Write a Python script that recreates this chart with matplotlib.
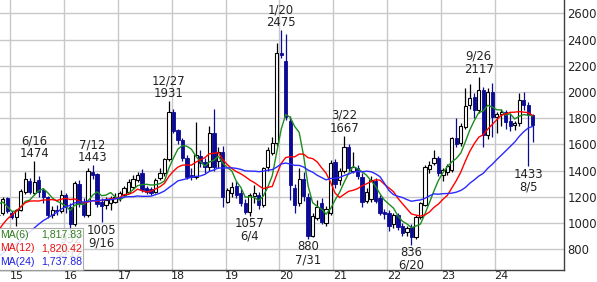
import numpy as np
import pandas as pd
import matplotlib
matplotlib.use("Agg")
import matplotlib.pyplot as plt
from matplotlib import font_manager
from matplotlib.patches import Rectangle

plt.rcParams['font.family'] = ['DejaVu Sans']
plt.rcParams['font.size'] = 8.4

# monthly candles, Oct 2014 .. Sep 2024
months = pd.period_range("2014-10", "2024-09", freq="M")

opens = [1060, 1075, 1190,
         1075, 1045, 1100, 1240, 1323, 1227, 1330, 1250, 1200, 1062, 1100, 1090,
         1213, 1120, 990, 1296, 1150, 1062, 1392, 1375, 1160, 1138, 1150, 1164,
         1189, 1214, 1240, 1278, 1330, 1380, 1265, 1258, 1240, 1342, 1380, 1486,
         1845, 1710, 1634, 1494, 1370, 1350, 1510, 1465, 1430, 1685, 1470, 1540,
         1164, 1227, 1286, 1227, 1151, 1087, 1207, 1215, 1138, 1431, 1532, 1608,
         2300, 2238, 1780, 1265, 1150, 1340, 1200, 901, 1036, 1150, 1000, 1080,
         1465, 1330, 1400, 1580, 1400, 1420, 1354, 1170, 1180, 1320, 1190, 1085,
         1080, 990, 1061, 975, 935, 973, 897, 1049, 1138, 1410, 1456, 1494,
         1367, 1392, 1405, 1650, 1610, 1730, 1901, 1964, 1862, 2015, 1672, 2000,
         1810, 1830, 1850, 1775, 1745, 1761, 1939, 1901, 1824]
highs = [1120, 1200, 1200,
         1090, 1110, 1260, 1392, 1345, 1474, 1360, 1265, 1210, 1130, 1140, 1252,
         1230, 1150, 1320, 1330, 1190, 1418, 1443, 1380, 1190, 1200, 1210, 1230,
         1245, 1280, 1340, 1370, 1392, 1410, 1280, 1275, 1345, 1418, 1500, 1931,
         1870, 1720, 1650, 1520, 1420, 1775, 1560, 1500, 1740, 1868, 1580, 1590,
         1270, 1310, 1320, 1260, 1180, 1230, 1290, 1240, 1430, 1580, 1660, 2371,
         2475, 2442, 1820, 1300, 1420, 1390, 1230, 1080, 1176, 1190, 1130, 1480,
         1490, 1420, 1667, 1600, 1540, 1440, 1380, 1270, 1360, 1345, 1215, 1110,
         1100, 1080, 1080, 1000, 980, 990, 1060, 1160, 1440, 1470, 1557, 1510,
         1420, 1450, 1660, 1800, 1760, 2030, 2060, 1990, 2117, 2040, 2030, 2070,
         1850, 1870, 1860, 1830, 1780, 1995, 2000, 1920, 1830]
lows = [1000, 1060, 1075,
        1030, 975, 1090, 1225, 1220, 1215, 1200, 1150, 1040, 1040, 1060, 1080,
        1080, 932, 975, 1120, 1050, 1050, 1340, 1120, 1005, 1110, 1100, 1150,
        1170, 1200, 1230, 1260, 1310, 1240, 1220, 1215, 1230, 1330, 1360, 1470,
        1690, 1600, 1470, 1340, 1330, 1340, 1430, 1380, 1400, 1400, 1420, 1125,
        1150, 1200, 1190, 1130, 1070, 1057, 1150, 1110, 1120, 1400, 1520, 1590,
        2260, 1790, 1176, 1075, 1130, 1170, 880, 890, 1020, 990, 975, 1060,
        1270, 1290, 1380, 1400, 1380, 1340, 1120, 1150, 1160, 1150, 1060, 1030,
        940, 960, 950, 905, 900, 836, 880, 1030, 1130, 1380, 1440, 1360,
        1320, 1370, 1390, 1580, 1590, 1720, 1870, 1800, 1840, 1580, 1640, 1660,
        1690, 1740, 1720, 1700, 1710, 1740, 1860, 1433, 1621]
closes = [1065, 1180, 1090,
          1045, 1100, 1245, 1334, 1240, 1316, 1240, 1201, 1062, 1100, 1090, 1215,
          1120, 990, 1305, 1150, 1065, 1398, 1367, 1146, 1130, 1176, 1181, 1202,
          1227, 1265, 1316, 1334, 1367, 1253, 1240, 1232, 1330, 1385, 1486, 1845,
          1705, 1634, 1494, 1354, 1350, 1520, 1460, 1430, 1685, 1430, 1540, 1200,
          1253, 1278, 1215, 1151, 1087, 1215, 1227, 1138, 1418, 1557, 1608, 2295,
          2280, 1811, 1290, 1138, 1340, 1210, 900, 1054, 1125, 1010, 1110, 1460,
          1300, 1400, 1580, 1420, 1430, 1360, 1160, 1240, 1330, 1170, 1080, 1070,
          975, 1060, 973, 925, 960, 897, 1049, 1151, 1430, 1443, 1494, 1380,
          1405, 1435, 1646, 1600, 1741, 1890, 1952, 1862, 2015, 1672, 2000, 1810,
          1830, 1850, 1775, 1740, 1760, 1939, 1901, 1824, 1745]

# closes Nov 2012 .. Sep 2014 (off the left edge), guessed so the averages start where they do
closes_before = [470, 480, 500, 520, 540, 560, 580, 560, 550, 560, 570, 580, 600,
                 600, 680, 750, 850, 950, 1090, 1300, 1255, 1100, 1060]

ma_periods = [6, 12, 24]
ma_colors = ["#1e8c1e", "#ff0000", "#2a2aff"]
ma_text_colors = ["#2e7d1e", "#e81010", "#2020e0"]
ma_last = [1817.83, 1820.42, 1737.88]

ann_month = ["2015-06", "2016-07", "2016-09", "2017-12", "2016-02", "2020-01",
             "2019-06", "2020-07", "2021-03", "2022-06", "2023-09", "2024-08"]
ann_day = ["6/16", "7/12", "9/16", "12/27", "2/12", "1/20",
           "6/4", "7/31", "3/22", "6/20", "9/26", "8/5"]
ann_value = [1474, 1443, 1005, 1931, 932, 2475, 1057, 880, 1667, 836, 2117, 1433]
ann_is_high = [True, True, False, True, False, True, False, False, True, False, True, False]

year_labels = ["15", "16", "17", "18", "19", "20", "21", "22", "23", "24"]

navy = "#0a0a94"

# narrow font for the legend box if there is one
names = {f.name for f in font_manager.fontManager.ttflist}
if "Liberation Sans Narrow" in names:
    leg_font = dict(family="Liberation Sans Narrow", size=8.6)
else:
    leg_font = dict(family="Liberation Sans", size=7.6)

o = np.array(opens, dtype=float)
h = np.array(highs, dtype=float)
l = np.array(lows, dtype=float)
c = np.array(closes, dtype=float)
x = np.arange(len(c))
up = c >= o

fig = plt.figure(figsize=(5.97, 2.82), dpi=100)
ax = fig.add_axes([0, 12/282, 564/597, 270/282])

# wicks
ax.vlines(x[up], l[up], h[up], color="black", lw=0.9, zorder=2)
ax.vlines(x[~up], l[~up], h[~up], color=navy, lw=0.9, zorder=2)
# bodies
bot = np.minimum(o, c)
hgt = np.maximum(np.abs(c - o), 4)
ax.bar(x[up], hgt[up], bottom=bot[up], width=0.74, color="white",
       edgecolor="black", linewidth=0.8, zorder=3)
ax.bar(x[~up], hgt[~up], bottom=bot[~up], width=0.74, color=navy,
       edgecolor=navy, linewidth=0.6, zorder=3)

# moving averages
all_closes = pd.Series(closes_before + closes, dtype=float)
for n, col in zip(ma_periods, ma_colors):
    ma = all_closes.rolling(n).mean().iloc[len(closes_before):].values
    ax.plot(x, ma, color=col, lw=1.0, zorder=4)

# high / low labels
month_pos = {str(p): i for i, p in enumerate(months)}
for mo, day, val, hi in zip(ann_month, ann_day, ann_value, ann_is_high):
    xi = month_pos[mo]
    if hi:
        ax.annotate(f"{day}\n{val}", (xi, val), xytext=(0, 0.5), textcoords="offset points",
                    ha="center", va="bottom", linespacing=1.0, color="#222222", zorder=5)
    else:
        ax.annotate(f"{val}\n{day}", (xi, val), xytext=(0, -1), textcoords="offset points",
                    ha="center", va="top", linespacing=1.0, color="#222222", zorder=5)

# legend box
ax.add_patch(Rectangle((-0.01, 0), 0.158, 0.157, transform=ax.transAxes,
                       facecolor="white", alpha=0.85, edgecolor="#a0a0a0",
                       lw=0.8, zorder=6, clip_on=False))
for k, (n, col, v) in enumerate(zip(ma_periods, ma_text_colors, ma_last)):
    yy = 0.130 - k * 0.05
    ax.text(0.001, yy, f"MA({n})", transform=ax.transAxes, color=col,
            ha="left", va="center", zorder=7, **leg_font)
    ax.text(0.1455, yy, f"{v:,.2f}", transform=ax.transAxes, color=col,
            ha="right", va="center", zorder=7, **leg_font)

# axes, ticks, grid
ax.set_xlim(0.372, 125.98)
ax.set_ylim(642, 2702)
ax.set_xticks(np.arange(2.6, 115, 12))
ax.set_xticks(np.arange(4.1, 116, 12), minor=True)
ax.set_xticklabels([], minor=False)
ax.set_xticklabels(year_labels, minor=True, fontsize=8)
ax.tick_params(axis="x", which="both", length=0, pad=0.5, labelcolor="#222222")
ax.set_yticks(range(800, 2601, 200))
ax.yaxis.tick_right()
ax.tick_params(axis="y", length=0, pad=2.5, labelcolor="#222222")
ax.grid(True, which="major", color="#c8c8c8", lw=1.0, zorder=0)
ax.set_axisbelow(True)
for s in ["top", "left"]:
    ax.spines[s].set_visible(False)
for s in ["right", "bottom"]:
    ax.spines[s].set_color("#404040")
    ax.spines[s].set_linewidth(1.0)

fig.savefig("out.png", dpi=100)
